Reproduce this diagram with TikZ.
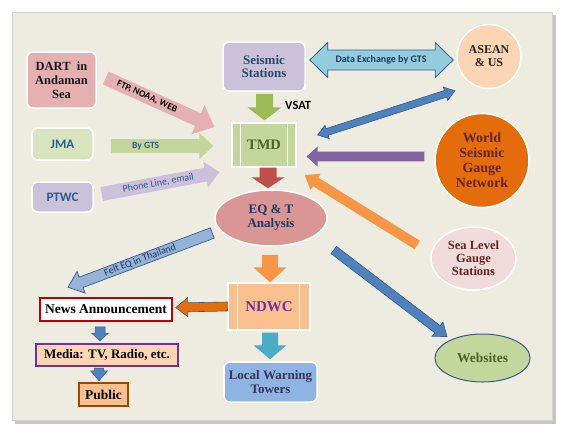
\documentclass[tikz,border=0pt]{standalone}
\usepackage{fontspec}
\setmainfont{Liberation Serif}
\newfontfamily\sansf{Carlito}
\usetikzlibrary{calc,shapes.geometric}
\definecolor{panel}{HTML}{EEECE1}
\definecolor{dartc}{HTML}{E4B0B1}
\definecolor{jmac}{HTML}{D7E4BD}
\definecolor{lav}{HTML}{CCC1DA}
\definecolor{tmdc}{HTML}{C3D69B}
\definecolor{eqc}{HTML}{D99694}
\definecolor{ndwcc}{HTML}{FAC090}
\definecolor{localc}{HTML}{8EB4E3}
\definecolor{aseanc}{HTML}{FCD5B5}
\definecolor{worldc}{HTML}{E46C0A}
\definecolor{seac}{HTML}{F2DCDB}
\definecolor{olive}{HTML}{4F6228}
\definecolor{navy}{HTML}{1F3864}
\definecolor{outl}{HTML}{385D8A}
\definecolor{blu}{HTML}{4F81BD}
\definecolor{lblu}{HTML}{95B3D7}
\definecolor{teal}{HTML}{4BACC6}
\definecolor{aqua}{HTML}{93CDDD}
\definecolor{grn}{HTML}{9BBB59}
\definecolor{redc}{HTML}{C0504D}
\definecolor{orng}{HTML}{F79646}
\definecolor{purp}{HTML}{8064A2}
\definecolor{violet}{HTML}{7030A0}
\definecolor{maroon}{HTML}{632523}
\definecolor{slate}{HTML}{2B4A6B}
\definecolor{sblue}{HTML}{2C5C8E}
\definecolor{brown}{HTML}{984807}
\definecolor{dred}{HTML}{C00000}
\definecolor{towerc}{HTML}{3A3355}

\newcommand{\blockarrow}[6]{%
 \coordinate (baS) at (#2);
 \coordinate (baE) at (#3);
 \coordinate (baP) at ($(baE)!#6!(baS)$);
 \path[#1] ($(baS)!#4!90:(baE)$) -- ($(baP)!#4!-90:(baS)$) -- ($(baP)!#5!-90:(baS)$) -- (baE)
   -- ($(baP)!#5!90:(baS)$) -- ($(baP)!#4!90:(baS)$) -- ($(baS)!#4!-90:(baE)$) -- cycle;
}
\newcommand{\dblockarrow}[6]{%
 \coordinate (baS) at (#2);
 \coordinate (baE) at (#3);
 \coordinate (baP) at ($(baE)!#6!(baS)$);
 \coordinate (baQ) at ($(baS)!#6!(baE)$);
 \path[#1] (baS) -- ($(baQ)!#5!90:(baE)$) -- ($(baQ)!#4!90:(baE)$) -- ($(baP)!#4!-90:(baS)$)
   -- ($(baP)!#5!-90:(baS)$) -- (baE) -- ($(baP)!#5!90:(baS)$) -- ($(baP)!#4!90:(baS)$)
   -- ($(baQ)!#4!-90:(baE)$) -- ($(baQ)!#5!-90:(baE)$) -- cycle;
}

\tikzset{
 rbox/.style={rectangle, rounded corners=6pt, draw=white, line width=1.5pt, align=center, inner sep=0pt},
 sbox/.style={rectangle, draw=white, line width=1.2pt, align=center, inner sep=0pt},
 ell/.style={ellipse, draw=white, line width=1.5pt, align=center, inner sep=0pt},
 circ/.style={circle, draw=white, line width=1.5pt, align=center, inner sep=0pt},
 fbox/.style={rectangle, align=center, inner sep=0pt},
 serif/.style={font=\fontsize{#1}{#1}\selectfont\bfseries},
 sanslab/.style={font=\sansf\fontsize{#1}{#1}\selectfont\bfseries},
 sanslabr/.style={font=\sansf\fontsize{#1}{#1}\selectfont},
 arlbl/.style={sloped, inner sep=0pt}
}

\begin{document}
\begin{tikzpicture}[x=1pt,y=-1pt]
\useasboundingbox (0,0) rectangle (564,434);
\fill[gray!45] (15,15) rectangle (556,424);
\fill[panel] (12,12) rectangle (552,420);
\draw[gray!35, line width=1pt] (12,12) rectangle (552,420);

% nodes
\node[rbox, fill=dartc, minimum width=69, minimum height=56,
      font=\fontsize{12.5}{14}\selectfont\bfseries, text=black!90] (dart) at (61.5,80) {DART~ in\\Andaman\\Sea};
\node[rbox, fill=jmac, minimum width=61, minimum height=32, sanslab=13, text=sblue] (jma) at (62.5,144) {JMA};
\node[rbox, fill=lav, minimum width=61, minimum height=30, sanslab=13, text=sblue] (ptwc) at (62.5,197) {PTWC};
\node[rbox, fill=lav, minimum width=82, minimum height=49,
      font=\fontsize{13}{13.5}\selectfont\bfseries, text=slate] (seis) at (264,66.5) {Seismic\\Stations};
\node[sbox, fill=tmdc, minimum width=64, minimum height=44, serif=14.5, text=olive] (tmd) at (264,145) {TMD};
\draw[white, line width=1.2pt] ($(tmd.north west)+(9,0)$) -- ($(tmd.south west)+(9,0)$);
\draw[white, line width=1.2pt] ($(tmd.north east)+(-9,0)$) -- ($(tmd.south east)+(-9,0)$);
\node[ell, fill=eqc, minimum width=112, minimum height=56,
      font=\fontsize{13}{14}\selectfont\bfseries, text=navy] (eq) at (271,218) {EQ \& T\\Analysis};
\node[sbox, fill=ndwcc, minimum width=82, minimum height=47, serif=15, text=violet] (ndwc) at (269,306.5) {NDWC};
\draw[white, line width=1.2pt] ($(ndwc.north west)+(10,0)$) -- ($(ndwc.south west)+(10,0)$);
\draw[white, line width=1.2pt] ($(ndwc.north east)+(-11,0)$) -- ($(ndwc.south east)+(-11,0)$);
\node[rbox, fill=localc, minimum width=93, minimum height=40,
      font=\fontsize{13}{14}\selectfont\bfseries, text=towerc] (local) at (270.5,382) {Local Warning\\Towers};
\node[fbox, fill=white, draw=dred, line width=1.5pt, minimum width=132, minimum height=23,
      serif=13.5] (news) at (106,309.5) {News Announcement};
\node[fbox, fill=aseanc, draw=violet, line width=2pt, minimum width=142, minimum height=22,
      serif=13] (media) at (107,355) {Media: TV, Radio, etc.};
\node[fbox, fill=ndwcc, draw=brown, line width=2.5pt, minimum width=49, minimum height=23,
      serif=13.5] (public) at (103.5,394.5) {Public};
\node[circ, fill=aseanc, minimum size=64,
      font=\fontsize{12}{13}\selectfont\bfseries, text=black!85] (asean) at (489,56.5) {ASEAN\\\& US};
\node[circ, fill=worldc, minimum size=94,
      font=\fontsize{14}{15}\selectfont\bfseries, text=maroon] (world) at (482,160.5) {World\\Seismic\\Gauge\\Network};
\node[ell, fill=seac, minimum width=85, minimum height=63,
      font=\fontsize{12.5}{13}\selectfont\bfseries, text=maroon] (sea) at (473.5,258.5) {Sea Level\\Gauge\\Stations};
\node[ell, fill=tmdc, draw=outl, line width=1pt, minimum width=95, minimum height=48,
      serif=13.5, text=olive] (web) at (482.5,358) {Websites};

% left incoming arrows
\blockarrow{fill=dartc}{$(dart.east)+(9,-2)$}{$(tmd.west)+(-17,-18)$}{7pt}{16pt}{18pt}
\path ($(dart.east)+(9,-2)$) -- ($(tmd.west)+(-17,-18)$)
   node[arlbl, pos=0.38, sanslab=9.5] {FTP, NOAA, WEB};
\blockarrow{fill=tmdc}{$(jma.east)+(17,2)$}{$(tmd.west)+(-18,1)$}{7pt}{13pt}{14pt}
\path ($(jma.east)+(17,2)$) -- ($(tmd.west)+(-18,1)$)
   node[arlbl, pos=0.34, sanslab=9.5, text=sblue] {By GTS};
\blockarrow{fill=lav}{$(ptwc.east)+(8,-3)$}{$(tmd.west)+(-12,27)$}{7pt}{13pt}{14pt}
\path ($(ptwc.east)+(8,-3)$) -- ($(tmd.west)+(-12,27)$)
   node[arlbl, pos=0.48, sanslabr=10, text=sblue] {Phone Line, email};

% vertical flow
\blockarrow{fill=grn}{$(seis.south)+(0.5,2)$}{$(tmd.north)+(0.5,-2)$}{8.5pt}{17pt}{13pt}
\node[sanslab=12.5, anchor=west, inner sep=0pt] (vsat) at (285,105) {VSAT};
\blockarrow{fill=redc}{$(tmd.south)+(4,0)$}{$(eq.north)+(-3,-1)$}{8.5pt}{16.5pt}{11pt}
\blockarrow{fill=orng}{$(eq.south)+(-1,8)$}{$(ndwc.north)+(1,0)$}{8pt}{16.5pt}{15pt}
\blockarrow{fill=teal}{$(ndwc.south)+(1,2)$}{$(local.north)+(-0.5,-2)$}{8pt}{16.5pt}{14pt}

% left flow
\blockarrow{fill=worldc, draw=outl, line width=0.6pt}{ndwc.west}{$(news.east)+(3,-2)$}{4.5pt}{9.5pt}{12pt}
\blockarrow{fill=blu, draw=outl, line width=0.5pt}{$(news.south)+(-6,5)$}{$(media.north)+(-7,-2)$}{5pt}{8.5pt}{8pt}
\blockarrow{fill=blu, draw=outl, line width=0.5pt}{$(media.south)+(-8,1)$}{$(public.north)+(-4.5,-1)$}{4.5pt}{8.5pt}{10pt}
\blockarrow{fill=lblu, draw=outl, line width=0.7pt}{$(eq.west)+(-2,15)$}{$(news.north)+(-38,-10)$}{5.5pt}{11.5pt}{14pt}
\path ($(eq.west)+(-2,15)$) -- ($(news.north)+(-38,-10)$)
   node[arlbl, pos=0.5, sanslabr=10, text=navy] {Felt EQ in Thailand};

% right side
\dblockarrow{fill=aqua, draw=outl, line width=0.8pt}{$(seis.east)+(4,-6.5)$}{$(asean.west)+(-3,3.5)$}{10pt}{17.5pt}{18pt}
\node[sanslab=10, text=navy, inner sep=0pt] (dex) at (381,60) {Data Exchange by GTS};
\dblockarrow{fill=blu, draw=outl, line width=0.6pt}{$(asean.south)+(-34,1.5)$}{$(tmd.east)+(21,-10)$}{3.5pt}{7pt}{10pt}
\blockarrow{fill=purp}{$(world.west)+(-10,-4)$}{$(tmd.east)+(10,11.5)$}{4.8pt}{10pt}{11pt}
\blockarrow{fill=orng}{$(sea.west)+(-13,-13.5)$}{$(tmd.east)+(8,30)$}{5pt}{9.5pt}{13pt}
\blockarrow{fill=blu, draw=outl, line width=0.6pt}{$(eq.east)+(6,32)$}{$(web.north)+(-35.5,3)$}{4.5pt}{9pt}{12pt}
\end{tikzpicture}
\end{document}
